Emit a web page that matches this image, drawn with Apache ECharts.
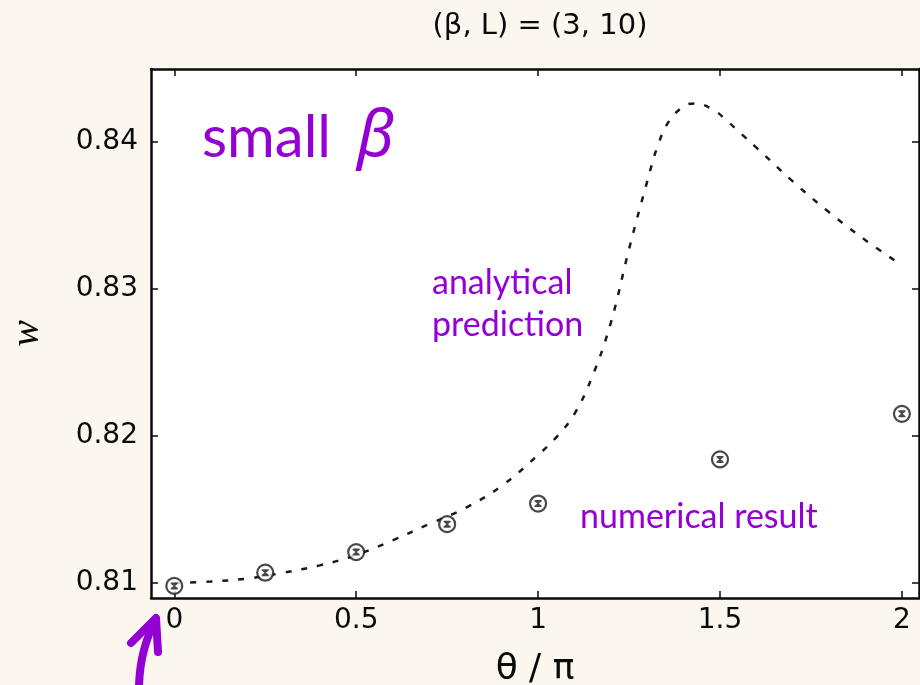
<!DOCTYPE html>
<html>
<head>
<meta charset="utf-8">
<script src="https://cdn.jsdelivr.net/npm/echarts@6/dist/echarts.min.js"></script>
<style>
  html, body { margin: 0; padding: 0; background: #fbf7ee; }
  #chart { width: 920px; height: 685px; }
</style>
</head>
<body>
<div id="chart"></div>
<script>
// 数值结果 (θ/π, w)
var pointX = [0, 0.25, 0.5, 0.75, 1, 1.5, 2];
var pointY = [0.8098, 0.8107, 0.8121, 0.8140, 0.8154, 0.8184, 0.8215];

// 解析预测曲线
var curveX = [0, 0.1, 0.2, 0.3, 0.4, 0.5, 0.6, 0.7, 0.8, 0.9, 1.0, 1.05, 1.1, 1.15, 1.2, 1.25,
  1.3, 1.33, 1.36, 1.4, 1.43, 1.48, 1.52, 1.56, 1.6, 1.7, 1.8, 1.9, 2.0];
var curveY = [0.8100, 0.8101, 0.8103, 0.8107, 0.8112, 0.8119, 0.8129, 0.8140, 0.8151, 0.8166,
  0.8187, 0.8199, 0.8215, 0.8241, 0.8277, 0.8327, 0.8373, 0.8398, 0.8414, 0.8424, 0.8426,
  0.8422, 0.8414, 0.8405, 0.8396, 0.8373, 0.8352, 0.8333, 0.8316];

// 刻度
var xTicks = [0, 0.5, 1, 1.5, 2];
var yTicks = [0.81, 0.82, 0.83, 0.84];

var purple = '#9400d3';
var ink = '#0a0a0a';

function pairs(xs, ys) {
  return xs.map(function (x, i) { return [x, ys[i]]; });
}

var axisLine = { show: true, onZero: false, lineStyle: { color: ink, width: 2.5 } };
var tickStyle = { color: ink, width: 1.5 };

var option = {
  backgroundColor: '#fbf7ee',
  animation: false,
  title: {
    text: '(β, L) = (3, 10)',
    left: 535,
    top: 7,
    textAlign: 'center',
    textStyle: { fontFamily: 'DejaVu Sans', fontSize: 29, fontWeight: 'normal', color: ink }
  },
  grid: {
    left: 151, top: 69, right: 1, bottom: 87,
    outerBoundsMode: 'none', containLabel: false,
    show: true, backgroundColor: '#fff', borderWidth: 0
  },
  xAxis: [
    {
      type: 'value', min: -0.064, max: 2.047, position: 'bottom',
      name: 'θ / π', nameLocation: 'middle', nameGap: 54,
      nameTextStyle: { fontFamily: 'DejaVu Sans', fontSize: 36, color: ink },
      axisLine: axisLine,
      axisTick: { inside: true, length: 7, lineStyle: tickStyle, customValues: xTicks },
      axisLabel: {
        customValues: xTicks, margin: 9,
        fontFamily: 'DejaVu Sans', fontSize: 28, color: ink,
        formatter: function (v) { return String(v); }
      },
      splitLine: { show: false }
    },
    {
      type: 'value', min: -0.064, max: 2.047, position: 'top',
      axisLine: axisLine,
      axisTick: { inside: true, length: 7, lineStyle: tickStyle, customValues: xTicks },
      axisLabel: { show: false },
      splitLine: { show: false }
    }
  ],
  yAxis: [
    {
      type: 'value', min: 0.80898, max: 0.84494, position: 'left',
      name: 'w', nameLocation: 'middle', nameGap: 104, nameRotate: 90,
      nameTextStyle: { fontFamily: 'Liberation Serif', fontStyle: 'italic', fontSize: 40, color: ink },
      axisLine: axisLine,
      axisTick: { inside: true, length: 7, lineStyle: tickStyle, customValues: yTicks },
      axisLabel: {
        customValues: yTicks, margin: 13,
        fontFamily: 'DejaVu Sans', fontSize: 28, color: ink,
        formatter: function (v) { return v.toFixed(2); }
      },
      splitLine: { show: false }
    },
    {
      type: 'value', min: 0.80898, max: 0.84494, position: 'right',
      axisLine: axisLine,
      axisTick: { inside: true, length: 7, lineStyle: tickStyle, customValues: yTicks },
      axisLabel: { show: false },
      splitLine: { show: false }
    }
  ],
  series: [
    {
      name: 'analytical prediction',
      type: 'line',
      data: pairs(curveX, curveY),
      smooth: 0.4,
      showSymbol: false,
      symbol: 'none',
      lineStyle: { color: '#1a1a1a', width: 2.5, type: [6, 10] },
      z: 2
    },
    {
      name: 'numerical result',
      type: 'scatter',
      data: pairs(pointX, pointY),
      symbol: 'circle',
      symbolSize: 16,
      itemStyle: { color: '#fff', borderColor: '#1a1a1a', borderWidth: 2.2 },
      z: 3
    },
    {
      name: 'error bar',
      type: 'scatter',
      data: pairs(pointX, pointY),
      symbol: 'path://M0,0 L10,0 L10,2 L6,5 L10,8 L10,10 L0,10 L0,8 L4,5 L0,2 Z',
      symbolSize: [7, 7],
      itemStyle: { color: '#1a1a1a' },
      z: 4
    }
  ],
  graphic: [
    {
      type: 'text', x: 202, y: 106, z: 10,
      style: {
        text: '{a|small}{b|β}',
        rich: {
          a: { fontFamily: 'Lato', fontSize: 58, fill: purple, padding: [0, 26, 0, 0] },
          b: { fontFamily: 'Noto Sans', fontStyle: 'italic', fontSize: 64, fill: purple }
        }
      }
    },
    {
      type: 'text', x: 432, y: 262, z: 10,
      style: { text: 'analytical\nprediction', fontFamily: 'Lato', fontSize: 34, lineHeight: 42, fill: purple }
    },
    {
      type: 'text', x: 580, y: 500, z: 10,
      style: { text: 'numerical result', fontFamily: 'Lato', fontSize: 34, fill: purple }
    },
    {
      type: 'bezierCurve', z: 10,
      shape: { x1: 139, y1: 690, cpx1: 139, cpy1: 660, cpx2: 146, cpy2: 638, x2: 156, y2: 619 },
      style: { fill: null, stroke: purple, lineWidth: 8, lineCap: 'round' }
    },
    {
      type: 'polyline', z: 10,
      shape: { points: [[131, 643], [156, 618], [158, 652]] },
      style: { fill: null, stroke: purple, lineWidth: 8, lineCap: 'round', lineJoin: 'round' }
    }
  ]
};

var myChart = echarts.init(document.getElementById('chart'));
myChart.setOption(option);
window.onresize = myChart.resize;
</script>
</body>
</html>
